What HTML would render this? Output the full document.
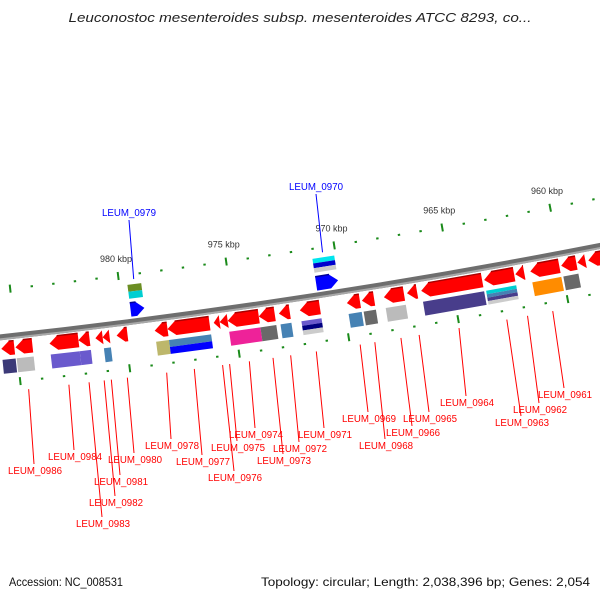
<!DOCTYPE html>
<html><head><meta charset="utf-8"><style>
html,body{margin:0;padding:0;background:#fff}
svg{display:block;font-family:"Liberation Sans","DejaVu Sans",sans-serif}
</style></head><body>
<svg id="map" width="600" height="600" viewBox="0 0 600 600" xmlns="http://www.w3.org/2000/svg">
<text x="300" y="22" text-anchor="middle" font-size="13" font-style="italic" fill="#222" textLength="463" lengthAdjust="spacingAndGlyphs">Leuconostoc mesenteroides subsp. mesenteroides ATCC 8293, co...</text>
<text x="9" y="586" font-size="12" fill="#111" textLength="114" lengthAdjust="spacingAndGlyphs">Accession: NC_008531</text>
<text x="261" y="586" font-size="12" fill="#111" textLength="329" lengthAdjust="spacingAndGlyphs">Topology: circular; Length: 2,038,396 bp; Genes: 2,054</text>
<g id="ruler"></g>
<path d="M-10,338.5 Q300,305 610,244" fill="none" stroke="#6e6e6e" stroke-width="6"/>
<path d="M-10,340.5 Q300,307 610,246" fill="none" stroke="#a8a8a8" stroke-width="2"/>
<g id="genes"></g>
<g id="labels"></g>
</svg>
<script>
// gene data (kbp)
const geneHi = [985.70,985.05,983.49,982.16,981.38,981.05,980.41,979.63,978.66,978.07,975.95,975.68,975.31,973.88,972.96,972.00,971.08,969.84,969.15,968.14,967.08,966.43,963.54,962.11,961.42,960.00,959.26,958.76];
const geneLo = [985.10,984.27,982.16,981.65,981.05,980.73,979.91,978.99,978.07,976.14,975.68,975.31,973.88,973.15,972.46,971.08,970.07,969.24,968.59,967.22,966.62,963.63,962.16,961.70,960.09,959.31,958.89,957.50];
const geneStrand = ['r','r','r','r','r','r','r','f','r','r','r','r','r','r','r','r','f','r','r','r','r','r','r','r','r','r','r','r'];
const geneColors = [['#3c3a78'],['#bbbbbb'],['#6a5acd'],['#6a5acd'],[],['#4682b4'],[],['#6b8e23','#00ced1'],['#bdb76b'],['#4682b4','#0000ff'],[],[],['#ee2299'],['#696969'],['#4682b4'],['#6a5acd','#000080','#cccccc'],['#00e5ee','#0000cd','#cccccc'],['#4682b4'],['#696969'],['#bbbbbb'],[],['#483d8b'],['#00ced1','#4682b4','#483d8b','#cccccc'],[],['#ff8c00'],['#696969'],[],[]];
const geneLabel = ['','LEUM_0986','LEUM_0984','LEUM_0983','LEUM_0982','LEUM_0981','LEUM_0980','LEUM_0979','LEUM_0978','LEUM_0977','LEUM_0976','LEUM_0975','LEUM_0974','LEUM_0973','LEUM_0972','LEUM_0971','LEUM_0970','LEUM_0969','LEUM_0968','LEUM_0966','LEUM_0965','LEUM_0964','LEUM_0963','LEUM_0962','LEUM_0961','','',''];
const labelX = [0,8,48,76,89,94,108,102,145,176,208,211,229,257,273,298,289,342,359,386,403,440,495,513,538,0,0,0];
const labelY = [0,474,460,527,506,485,463,216,449,465,481,451,438,464,452,438,190,422,449,436,422,406,426,413,398,0,0,0];
const tickMajor = [985,980,975,970,965,960];
const tickLabels = ['','980 kbp','975 kbp','970 kbp','965 kbp','960 kbp'];
const tickStart = 986, tickEnd = 957;

const NS='http://www.w3.org/2000/svg';
function kx(k){return 341.5+(970-k)*21.75;}
function curveAt(x){const t=x/600;const y=337*(1-t)*(1-t)+610*t*(1-t)+246*t*t;
  const dy=(2*(1-t)*(305-337)+2*t*(246-305))/600; const n=Math.hypot(1,dy);
  return {x:x,y:y,nx:-dy/n,ny:1/n};}
function pt(k,off){const c=curveAt(kx(k));return [c.x+c.nx*off,c.y+c.ny*off];}
function mk(tag,attrs,parent){const e=document.createElementNS(NS,tag);for(const a in attrs)e.setAttribute(a,attrs[a]);parent.appendChild(e);return e;}
function poly(ptsArr){return ptsArr.map(p=>p[0].toFixed(1)+','+p[1].toFixed(1)).join(' ');}

// ruler
const ruler=document.getElementById('ruler');
[-47,46].forEach(off=>{
  for(let k=tickStart;k>=tickEnd;k--){
    const major=tickMajor.indexOf(k)>=0;
    const a=pt(k,off-(major?4:1)), b=pt(k,off+(major?4:1));
    const ln=mk('line',{x1:a[0],y1:a[1],x2:b[0],y2:b[1],stroke:'#1a8a1a','stroke-width':major?2:2.4},ruler);
    
    
  }
});
tickMajor.forEach((k,i)=>{
  if(!tickLabels[i]) return;
  const p=pt(k,-64);
  const t=mk('text',{x:p[0],y:p[1]+3,'text-anchor':'middle','font-size':'9',fill:'#333'},ruler);
  t.textContent=tickLabels[i];
  
  
});

// genes
const gg=document.getElementById('genes'), lg=document.getElementById('labels');
geneHi.forEach((hi,i)=>{
  const lo=geneLo[i], fwd=geneStrand[i]==='f';
  const s=fwd?-1:1;
  const a1=5*s, a2=19*s, am=12*s;
  const lenPx=kx(lo)-kx(hi);
  const head=Math.min(8,lenPx)/21.75;
  let pts;
  if(fwd){
    pts=[pt(hi,a1),pt(lo+head,a1),pt(lo,am),pt(lo+head,a2),pt(hi,a2)];
  } else {
    pts=[pt(lo,a1),pt(hi-head,a1),pt(hi,am),pt(hi-head,a2),pt(lo,a2)];
  }
  const g=mk('g',{},gg);
  
  
  mk('polygon',{points:poly(pts),fill:fwd?'#0000ff':'#ff0000'},g);
  const topLine = fwd? [pts[3],pts[4]] : [pts[0],pts[1]];
  mk('line',{x1:topLine[0][0],y1:topLine[0][1],x2:topLine[1][0],y2:topLine[1][1],stroke:fwd?'#000099':'#aa0000','stroke-width':1.5},g);
  const cols=geneColors[i];
  if(cols.length){
    const b1=23*s, b2=37*s, h=(b2-b1)/cols.length;
    cols.forEach((c,j)=>{
      let o1,o2;
      if(fwd){o1=b2-j*h;o2=b2-(j+1)*h;} else {o1=b1+j*h;o2=b1+(j+1)*h;}
      const bp=[pt(hi,o1),pt(lo,o1),pt(lo,o2),pt(hi,o2)];
      mk('polygon',{points:poly(bp),fill:c},g);
    });
  }
  if(geneLabel[i]){
    const mid=(hi+lo)/2;
    const tx=labelX[i], ty=labelY[i];
    const col=fwd?'#0000ff':'#ff0000';
    let p0,p1;
    if(fwd){p0=pt(mid,-42);p1=[tx+27,ty+4];}
    else {p0=pt(mid,55);p1=[tx+26,ty-10];}
    const ln=mk('line',{x1:p0[0],y1:p0[1],x2:p1[0],y2:p1[1],stroke:col,'stroke-width':1},lg);
    
    
    const t=mk('text',{x:tx,y:ty,'font-size':'10',fill:col,textLength:'54',lengthAdjust:'spacingAndGlyphs'},lg);
    t.textContent=geneLabel[i];
    
    
  }
});
</script>
</body></html>
